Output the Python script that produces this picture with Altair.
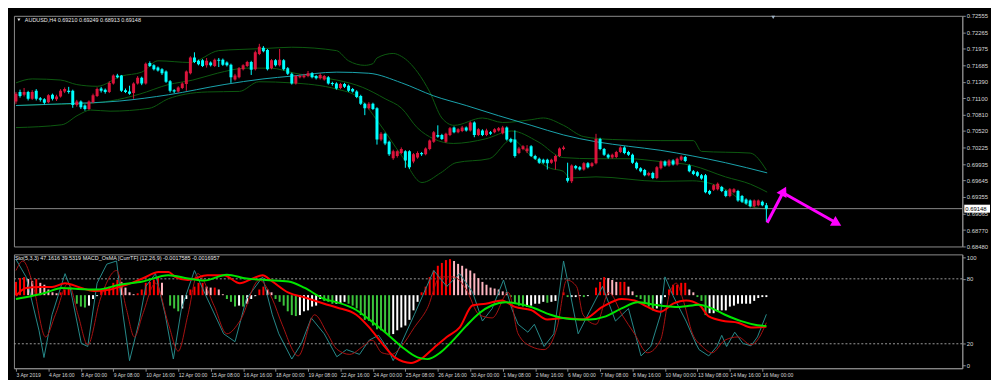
import json
import altair as alt
import pandas as pd

# ---------------- data ----------------
SYMBOL = "AUDUSD,H4"
STO_TEXT = "Sto(5,3,3) 47.1616 39.5319"
MACD_TEXT = "MACD_OsMA [CurrTF] (12,26,9) -0.0017585 -0.0016957"
PIP = 0.0001  # prices below are in pips

# H4 bars, bar 0 = 3 Apr 2019 08:00
OPEN = [7104,7121,7116,7121,7109,7123,7110,7108,7103,7116,
        7108,7113,7122,7123,7123,7098,7104,7097,7091,7103,
        7114,7127,7125,7121,7136,7150,7150,7124,7122,7119,
        7136,7146,7136,7172,7168,7164,7161,7157,7140,7124,
        7122,7128,7135,7154,7182,7176,7177,7168,7173,7167,
        7178,7178,7173,7169,7143,7147,7161,7167,7174,7161,
        7188,7199,7195,7163,7177,7168,7177,7163,7153,7136,
        7147,7147,7149,7154,7149,7145,7143,7147,7137,7136,
        7128,7135,7132,7126,7122,7114,7100,7092,7100,7092,
        7037,7047,7033,7004,7008,7013,7016,7016,6998,7005,
        7013,7011,7020,7033,7045,7045,7033,7045,7058,7050,
        7052,7058,7053,7067,7045,7053,7045,7050,7050,7053,
        7048,7058,7038,7037,7013,7020,7016,7025,7008,7003,
        7001,7001,6996,6998,7008,7020,6969,6963,6990,6988,
        6984,6995,6990,6995,7038,7020,7010,7005,7006,7015,
        7023,7015,7010,6996,6986,6983,6974,6978,6969,6986,
        6998,6991,7000,6993,7001,7006,6991,6981,6979,6974,
        6974,6946,6948,6949,6953,6946,6937,6944,6946,6937,
        6931,6929,6919,6921,6927,6921.0]
CLOSE = [7118,7114,7121,7109,7121,7109,7107,7102,7115,7109,
         7113,7123,7126,7121,7098,7104,7094,7091,7104,7115,
         7126,7123,7121,7137,7150,7147,7123,7121,7118,7136,
         7146,7136,7171,7167,7161,7159,7154,7139,7123,7122,
         7129,7136,7157,7182,7174,7170,7167,7176,7168,7178,
         7176,7169,7168,7147,7150,7163,7168,7174,7160,7191,
         7201,7193,7161,7177,7168,7178,7161,7153,7136,7149,
         7149,7150,7154,7147,7145,7151,7149,7136,7135,7127,
         7135,7130,7123,7122,7112,7100,7092,7100,7091,7037,
         7047,7030,7011,7016,7016,7020,7000,6988,7011,7013,
         7011,7021,7035,7050,7042,7038,7047,7057,7050,7055,
         7058,7053,7067,7045,7055,7045,7053,7047,7055,7057,
         7058,7037,7033,7008,7021,7025,7021,7008,7003,6996,
         6996,6995,7001,7008,7021,7023,6964,6991,6986,6984,
         6995,6988,6995,7038,7020,7010,7005,7010,7015,7023,
         7013,7010,6996,6986,6981,6974,6978,6969,6988,6998,
         6991,7000,6993,7003,7007,6999,6981,6976,6973,6968,
         6944,6941,6956,6959,6946,6937,6949,6949,6929,6927,
         6924,6919,6929,6929,6921,6914.8]
HIGH = [7121,7125,7128,7123,7124,7126,7112,7110,7117,7118,
        7116,7126,7129,7130,7125,7107,7106,7099,7106,7118,
        7129,7130,7127,7140,7152,7153,7151,7127,7132,7138,
        7149,7148,7173,7175,7170,7166,7163,7159,7142,7126,
        7131,7138,7159,7184,7191,7178,7179,7181,7175,7180,
        7181,7180,7175,7171,7153,7165,7170,7176,7176,7194,
        7206,7202,7197,7179,7179,7197,7179,7165,7155,7151,
        7152,7153,7158,7156,7151,7154,7151,7149,7139,7138,
        7137,7137,7134,7128,7124,7116,7102,7103,7102,7094,
        7050,7049,7035,7019,7018,7023,7018,7018,7013,7016,
        7015,7023,7037,7052,7062,7047,7049,7059,7060,7057,
        7061,7060,7069,7069,7057,7055,7056,7052,7057,7059,
        7061,7060,7040,7053,7024,7027,7027,7027,7010,7005,
        7003,7003,7003,7010,7023,7026,6996,6993,6992,6990,
        6997,6997,6997,7047,7040,7022,7012,7012,7017,7025,
        7025,7017,7012,6998,6988,6985,6980,6980,6990,7000,
        7000,7002,7002,7005,7009,7008,6993,6983,6981,6976,
        6976,6948,6958,6961,6955,6948,6951,6951,6948,6939,
        6933,6931,6931,6931,6929,6924.9]
LOW = [7100,7111,7113,7106,7107,7106,7104,7099,7101,7106,
       7105,7111,7119,7118,7093,7095,7091,7088,7089,7101,
       7112,7120,7118,7119,7134,7145,7121,7119,7116,7109,
       7134,7133,7134,7165,7159,7157,7151,7137,7120,7119,
       7120,7126,7123,7152,7172,7168,7165,7164,7166,7165,
       7165,7167,7166,7137,7141,7145,7159,7165,7151,7159,
       7186,7191,7159,7161,7166,7166,7159,7151,7134,7134,
       7145,7145,7147,7145,7143,7143,7141,7134,7132,7125,
       7126,7128,7121,7120,7110,7098,7080,7090,7089,7028,
       7034,7027,7008,7001,7005,7011,6987,6985,6995,7003,
       7008,7009,7018,7031,7040,7036,7031,7043,7048,7048,
       7050,7051,7051,7041,7043,7043,7043,7045,7048,7051,
       7046,7035,7031,7005,7011,7018,7013,7006,7001,6994,
       6994,6984,6994,6984,7006,7018,6961,6960,6984,6982,
       6982,6986,6988,6993,7018,7008,7003,7003,7004,7013,
       7011,7008,6994,6984,6979,6972,6972,6967,6967,6984,
       6989,6989,6991,6991,6999,6997,6979,6974,6971,6966,
       6942,6939,6946,6947,6944,6935,6935,6942,6927,6925,
       6922,6917,6917,6919,6919,6891.3]

TIME_LABELS = ["3 Apr 2019", "4 Apr 16:00", "8 Apr 00:00", "9 Apr 08:00", "10 Apr 16:00",
               "12 Apr 00:00", "15 Apr 08:00", "16 Apr 16:00", "18 Apr 00:00", "19 Apr 08:00",
               "22 Apr 16:00", "24 Apr 00:00", "25 Apr 08:00", "26 Apr 16:00", "30 Apr 00:00",
               "1 May 08:00", "2 May 16:00", "6 May 00:00", "7 May 08:00", "8 May 16:00",
               "10 May 00:00", "13 May 08:00", "14 May 16:00", "16 May 00:00"]
PRICE_TICKS = [0.72555, 0.72265, 0.71975, 0.71685, 0.71390, 0.71100, 0.70810, 0.70520,
               0.70225, 0.69935, 0.69645, 0.69355, 0.69065, 0.68770, 0.68480]

# Bollinger bands and moving average (bar, pips)
UPPER_BAR = [0,4,11,15,20,26,31,35,43,50,55,62,68,79,82,86,88,89,93,95,99,102,105,108,115,120,127,130,135,140,147,159,167,169,181,185]
UPPER_VAL = [7137,7144,7142,7134,7131,7149,7156,7176,7173,7194,7196,7198,7200,7194,7176,7168,7171,7181,7189,7184,7156,7121,7075,7062,7075,7067,7072,7075,7062,7042,7037,7035,7035,7016,7013,6983]
MIDDLE_BAR = [0,8.9,16,23.2,30.4,37.6,43.6,49.6,56.8,62.8,68.8,74.7,79.1,85.5,91,95.1,98.9,103,107.8,115.7,122.2,128.7,134.9,143,150.9,158.8,166.7,174.9,181.1,185.2]
MIDDLE_VAL = [7097,7099,7100,7105,7117,7134,7142,7154,7163,7163,7154,7147,7142,7129,7109,7092,7058,7038,7030,7038,7052,7033,7005,7003,7003,6998,6991,6971,6958,6944]
LOWER_BAR = [0,11.3,15.3,18.4,23.2,32.8,37.6,41.7,47.2,55.1,59.9,68,79.1,84.3,89.4,95.1,100.1,104.7,108.5,116.7,122.2,127,131.8,134.9,136.6,143,158.8,166.7,174.9,181.1,185.2]
LOWER_VAL = [7058,7063,7080,7089,7087,7092,7109,7117,7121,7122,7139,7137,7126,7112,7067,7008,6961,6978,6996,7003,7037,7008,6986,6981,6969,6971,6963,6964,6949,6919,6914]
MA_BAR = [0,11.3,25.6,37.6,51.3,60.9,68,79.1,87,95.1,103,111,119,127,135,143,151,158.8,166.7,174.9,185.2]
MA_VAL = [7097,7100,7105,7116,7134,7144,7149,7156,7154,7137,7114,7097,7079,7062,7045,7033,7025,7018,7008,6996,6978]

# hand-drawn arrows (bar, pips)
ARROW_UP_BAR = [185.2, 189.3]
ARROW_UP_VAL = [6890, 6946]
ARROW_DN_BAR = [189.3, 202.4]
ARROW_DN_VAL = [6942, 6889]

# MACD OsMA histogram and lines (indicator units)
HIST = [7,9,9.5,8.5,7.5,8.5,6.5,5.5,3,1.5, 1,1.5,3,4,0,-4.5,-6,-6.5,-5.5,-2,
        -0.5,3,4,4.5,6.5,8,7,4,1.5,0.5, 1,3,6.5,7,8,9,6.5,0,-5.5,-7,
        -8.5,-7,-2,3,4.5,6.5,6.5,4.5,4,4, 3,0.5,-2,-3.5,-6,-5.5,-6,-4.5,-2,-0.5,
        3,4.5,3,1.5,-2,-3.5,-5.5,-8.5,-10.5,-11, -10.5,-8.5,-8,-6,-5.5,-2,-3,-3.5,-4.5,-4.5,
        -4.5,-3.5,-4.5,-5.5,-7,-10.5,-13,-13.5,-16,-18,-18.5,-19.5,-21,-20.5,-18.5,-17,-16,-13,-8,-3.5,
        1.5,4.5,9.5,13,15.5,17,18.5,19,18,16.5,15.5,14,13,11.5,9,7,5.5,4,3.5,3,
        2,1.5,-1,-4.5,-5.5,-6,-6,-5.5,-4.5,-4.5,-3.5,-4,-3.5,-3,0,1.5,-1,-1,-1,-0.5,
        -1,-0.5,0,4,7,9.5,9,8,7,7,7,4.5,2,-1,-2,-4.5,-6,-8,-7,-4.5,
        -1,3,5.5,5.5,6.5,6.5,3,1.5,-1,-3,-10.5,-9.5,-9.5,-8.5,-8,-8,-6,-5.5,-4.5,-4.5,
        -4.5,-4.5,-3,-1.5,-1,-1]
MACD_MAIN_BAR = [0,2.5,5.7,8.9,12.1,16.1,19.2,23.2,27.2,31.2,35.2,37.6,39.2,42.4,47.2,51.2,55.2,58.4,60.8,63.2,
                 67.2,71.2,76,79.1,83.9,87.1,90.2,93.4,97.4,99.8,103,106.2,109.4,112.6,115.8,119.8,123,127,131,135,
                 139.8,144.6,149.3,152.5,155.7,158.9,162,165.2,168.4,170.8,174.8,178,181.2,185]
MACD_MAIN_VAL = [-0.3,3.8,4.3,4.3,6.3,3.8,2.2,3,5.5,8.8,12.2,12.2,9.7,8,10.5,10.5,6.3,8.8,10.5,7.2,
                 1.3,-1.2,-4.5,-6.5,-10.3,-17,-25.3,-32.8,-35.7,-33.7,-27.8,-22,-17,-5.3,-4.5,-2.8,-6.2,-7.8,-12.8,-12,
                 -12.8,-6.2,-2,-2.8,-6.2,-8.7,-4.5,-2.8,-5,-11.2,-13.7,-14.5,-17,-16.7]
MACD_SIG_BAR = [0,4.1,7.3,11.3,15.3,20,25.6,31.2,37.6,42.4,46.4,52,56.8,61.6,67.2,71.2,76,79.1,83.9,87.1,
                91,95,99,101.4,104.6,107.8,111,114.2,117.4,120.6,123.8,127,131.8,136.6,141.4,145.4,149.3,153.3,157.3,163.6,
                168.4,171.6,174.8,178.8,182.8,185]
MACD_SIG_VAL = [-2,-0.3,1.3,3.8,3.3,3,5.5,7.2,10.5,8.8,7.7,10.8,8.8,8,7.2,3.8,-2,-3.7,-7.8,-12.8,
                -19.5,-27,-32.8,-33.7,-30.3,-23.7,-16.2,-9.5,-5.3,-3.7,-4.5,-6.2,-10.3,-12.5,-12.8,-11.2,-7,-3.7,-5,-6.2,
                -5,-7,-10.3,-13.7,-15.8,-16.2]

# Stochastic (5,3,3)
STO_MAIN_BAR = [0,2.5,5.7,6.9,8.9,12.1,13.3,16.1,17.7,20,22.4,24.8,26.4,28,30.4,32,34.4,36.8,38.8,40.8,
                44,47.2,51.2,54,56.8,60.8,63.2,64.8,68,70.4,72.8,76,79.1,81.5,84.7,87.1,89.4,91.8,93,95,
                98.2,100.6,103,106.2,109.4,112.6,115,117.4,120.2,122.2,123.8,126.2,127.8,130.2,132.6,135,136.6,138.6,141.4,144.6,
                147.8,151,154.1,156.5,158.9,160,162,165.2,167.6,168.4,170.8,172.8,174,175.2,177.2,179.2,181.2,182.8,185]
STO_MAIN_VAL = [98,81.8,32,7.3,46.8,84.8,73,20.4,17.5,76,93.6,96.5,46.8,4.4,41,73,84.8,46.8,5.9,52.6,
                87.7,61.4,29.2,21.9,61.4,81.8,46.8,29.2,5.9,20.4,43.9,29.2,8,14.6,10.2,23.4,27.8,14.6,4.4,20.4,
                46.8,67.3,87.7,73,84.8,67.3,41,52.6,78.9,52.6,38,30.7,38,17.5,29.2,96.5,67.3,29.2,49.7,73,
                41,52.6,8.8,17.5,46.8,81.8,64.3,41,20.4,14.6,8.8,17.5,27.8,17.5,30.7,20.4,18.1,26.3,47.2]
STO_SIG_BAR = [0,1.7,4.1,7.3,9.7,12.9,15.3,17.7,20.8,24.8,27.2,29.2,31.2,34.4,37.6,40,42.4,44.8,48.8,52,
               55.2,60,63.2,65.6,69.6,73.6,76.8,79.1,82.3,85.5,87.8,90.2,92.6,95,98.2,101.4,104.6,107.8,111,114.2,
               117.4,121.4,123.8,127,130.2,133.4,135.8,138.2,139.8,143,146.2,149.4,152.5,155.7,158.9,161.2,162.8,164.4,166.8,169.2,
               171.6,174.8,178,181.2,182.8,185]
STO_SIG_VAL = [87.7,96.5,76,26.3,46.8,76,46.8,19,61.4,87.7,52.6,26.3,46.8,76,38,13.2,46.8,84.8,55.5,29.2,
               41,78.9,61.4,38,8.8,46.8,29.2,15,10.2,17.5,23.4,11.7,10.2,17.5,35.1,52.6,81.8,81.8,70.2,46.8,
               43.9,67.3,29.2,17.5,14.6,35.1,78.9,73,46.8,38,67.3,46.8,29.2,11.7,23.4,67.3,76,61.4,29.2,17.5,
               11.7,23.4,26.3,19,23.4,39.5]
STO_LEVELS = [20, 80]
STO_TICKS = [0, 20, 80, 100]

# ---------------- tables ----------------
n = len(OPEN)
candles = pd.DataFrame({
    "bar": list(range(n)),
    "open": [v * PIP for v in OPEN],
    "close": [v * PIP for v in CLOSE],
    "high": [v * PIP for v in HIGH],
    "low": [v * PIP for v in LOW],
})
candles["dir"] = ["down" if c < o else "up" for o, c in zip(OPEN, CLOSE)]

def series(bars, vals, name, scale=1.0):
    return pd.DataFrame({"bar": bars, "val": [v * scale for v in vals], "s": name, "i": list(range(len(bars)))})

bands = pd.concat([series(UPPER_BAR, UPPER_VAL, "upper", PIP),
                   series(MIDDLE_BAR, MIDDLE_VAL, "middle", PIP),
                   series(LOWER_BAR, LOWER_VAL, "lower", PIP)])
ma = series(MA_BAR, MA_VAL, "ma", PIP)
arrow_up = series(ARROW_UP_BAR, ARROW_UP_VAL, "a1", PIP)
arrow_dn = series(ARROW_DN_BAR, ARROW_DN_VAL, "a2", PIP)
last = pd.DataFrame({"p": [CLOSE[-1] * PIP], "t": ["%.5f" % (CLOSE[-1] * PIP)]})
header = pd.DataFrame({"t": ["%s  %.5f %.5f %.5f %.5f" % (SYMBOL, OPEN[-1] * PIP, HIGH[-1] * PIP,
                                                         LOW[-1] * PIP, CLOSE[-1] * PIP)]})

cats = []
for i, v in enumerate(HIST):
    prev = HIST[i - 1] if i else v
    if v > 0:
        cats.append("pos_up" if v >= prev else "pos_down")
    else:
        cats.append("neg_down" if v < prev else "neg_up")
hist = pd.DataFrame({"bar": list(range(len(HIST))), "h": HIST, "c": cats})
macd = pd.concat([series(MACD_MAIN_BAR, MACD_MAIN_VAL, "main"), series(MACD_SIG_BAR, MACD_SIG_VAL, "signal")])
sto_main = series(STO_MAIN_BAR, STO_MAIN_VAL, "main")
sto_sig = series(STO_SIG_BAR, STO_SIG_VAL, "signal")
levels = pd.DataFrame({"lvl": STO_LEVELS})
bottom_header = pd.DataFrame({"t": [STO_TEXT + "  " + MACD_TEXT]})

# ---------------- scales / axes ----------------
W, H_TOP, H_BOT = 958, 233, 115
FONT = "Liberation Sans"
LBL = "#d6d6d6"
GRAY = "#8c8c8c"
bar_scale = alt.Scale(domain=[-0.5, 233.3], nice=False, zero=False)
price_scale = alt.Scale(domain=[0.68480, 0.72555], nice=False, zero=False)
sto_scale = alt.Scale(domain=[-2.6, 102.6], nice=False, zero=False)
macd_scale = alt.Scale(domain=[-38.5, 21.5], nice=False, zero=False)

price_axis = alt.Axis(orient="right", values=PRICE_TICKS, format=".5f", title=None, grid=False,
                      labelFontSize=6, labelFont=FONT, labelColor=LBL, tickColor=GRAY, tickSize=3,
                      domainColor=GRAY, labelPadding=1, labelOverlap=False)
label_expr = json.dumps(TIME_LABELS) + "[round(datum.value / 8)]"
time_axis = alt.Axis(values=list(range(0, 8 * len(TIME_LABELS), 8)), labelExpr=label_expr, title=None,
                     grid=False, labelAlign="left", labelFontSize=5.1, labelFont=FONT, labelColor=LBL,
                     tickColor=GRAY, tickSize=3, domainColor=GRAY, labelPadding=1, labelOverlap=False,
                     labelFlush=False)
sto_axis = alt.Axis(orient="right", values=STO_TICKS, title=None, grid=False, labelFontSize=6,
                    labelFont=FONT, labelColor=LBL, tickColor=GRAY, tickSize=3, domainColor=GRAY,
                    labelPadding=1)

xt = alt.X("bar:Q", scale=bar_scale, axis=None)
xb = alt.X("bar:Q", scale=bar_scale, axis=time_axis)

def yp(field):
    return alt.Y(field + ":Q", scale=price_scale, axis=price_axis)

# ---------------- top panel ----------------
band_lines = alt.Chart(bands).mark_line(color="#0d5a10", strokeWidth=1, interpolate="monotone", clip=True).encode(
    x=xt, y=yp("val"), detail="s:N", order="i:Q")
ma_line = alt.Chart(ma).mark_line(color="#1aa4ad", strokeWidth=1, interpolate="monotone", clip=True).encode(
    x=xt, y=yp("val"), order="i:Q")
price_line = alt.Chart(last).mark_rule(color="#8a8a8a", strokeWidth=1).encode(y=yp("p"))
ccol = alt.Color("dir:N", scale=alt.Scale(domain=["up", "down"], range=["#DC143C", "#00FFFF"]), legend=None)
wicks = alt.Chart(candles).mark_rule(strokeWidth=1, clip=True).encode(x=xt, y=yp("low"), y2="high:Q", color=ccol)
bodies = alt.Chart(candles).mark_rule(strokeWidth=3, clip=True).encode(x=xt, y=yp("open"), y2="close:Q", color=ccol)
arrow_lines = alt.Chart(pd.concat([arrow_up, arrow_dn])).mark_line(color="#FF00FF", strokeWidth=3).encode(
    x=xt, y=yp("val"), detail="s:N", order="i:Q")
head_up = alt.Chart(arrow_up.tail(1)).mark_point(shape="triangle-up", filled=True, opacity=1, color="#FF00FF",
                                                 size=130, angle=28).encode(x=xt, y=yp("val"))
head_dn = alt.Chart(arrow_dn.tail(1)).mark_point(shape="triangle-up", filled=True, opacity=1, color="#FF00FF",
                                                 size=130, angle=119).encode(x=xt, y=yp("val"))
price_box = alt.Chart(last).mark_tick(orient="horizontal", color="#ffffff", thickness=8, size=26, opacity=1).encode(
    y=yp("p"), x=alt.value(973))
price_txt = alt.Chart(last).mark_text(align="left", baseline="middle", fontSize=6, font=FONT, color="#000000").encode(
    y=yp("p"), x=alt.value(961), text="t:N")
head_txt = alt.Chart(header).mark_text(align="left", baseline="middle", fontSize=5.5, font=FONT, color="#e8e8e8").encode(
    x=alt.value(11), y=alt.value(4), text="t:N")
head_mark = alt.Chart(header).mark_point(shape="triangle-down", filled=True, opacity=1, color="#e8e8e8", size=10).encode(
    x=alt.value(5), y=alt.value(4))
shift_mark = alt.Chart(header).mark_point(shape="triangle-down", filled=True, opacity=1, color="#9fb4c8", size=14).encode(
    x=alt.value(767), y=alt.value(1.5))

top = alt.layer(band_lines, ma_line, price_line, wicks, bodies, arrow_lines, head_up, head_dn,
                price_box, price_txt, head_txt, head_mark, shift_mark).properties(width=W, height=H_TOP)

# ---------------- bottom panel ----------------
lvl = alt.Chart(levels).mark_rule(color="#9a9a9a", strokeWidth=1, strokeDash=[2, 2]).encode(
    y=alt.Y("lvl:Q", scale=sto_scale, axis=sto_axis))
hcol = alt.Stroke("c:N", scale=alt.Scale(domain=["pos_up", "pos_down", "neg_down", "neg_up"],
                                         range=["#FF0000", "#FFB6C1", "#3cc43c", "#FFFFFF"]), legend=None)
hist_bars = alt.Chart(hist).mark_rule(strokeWidth=2).encode(
    x=xb, y=alt.Y("h:Q", scale=macd_scale, axis=None), y2=alt.datum(0), stroke=hcol)
sto_main_line = alt.Chart(sto_main).mark_line(color="#268a8a", strokeWidth=1).encode(
    x=xb, y=alt.Y("val:Q", scale=sto_scale, axis=None), order="i:Q")
sto_sig_line = alt.Chart(sto_sig).mark_line(color="#a81212", strokeWidth=1, interpolate="monotone").encode(
    x=xb, y=alt.Y("val:Q", scale=sto_scale, axis=None), order="i:Q")
macd_lines = alt.Chart(macd).mark_line(strokeWidth=2, interpolate="monotone").encode(
    x=xb, y=alt.Y("val:Q", scale=macd_scale, axis=None), order="i:Q",
    color=alt.Color("s:N", scale=alt.Scale(domain=["main", "signal"], range=["#FF0000", "#00E600"]), legend=None))
bot_txt = alt.Chart(bottom_header).mark_text(align="left", baseline="middle", fontSize=5.5, font=FONT, color="#e8e8e8").encode(
    x=alt.value(1), y=alt.value(4), text="t:N")

bottom = alt.layer(lvl, hist_bars, sto_main_line, sto_sig_line, macd_lines, bot_txt).resolve_scale(
    y="independent").properties(width=W, height=H_BOT)

chart = alt.vconcat(top, bottom, spacing=3).resolve_scale(color="independent").properties(
    background="#000000", padding={"left": 3, "top": 2, "right": 0, "bottom": 0}
).configure_view(stroke=GRAY, strokeWidth=1)

chart.save("out.html", embed_options={"renderer": "svg", "actions": False})
